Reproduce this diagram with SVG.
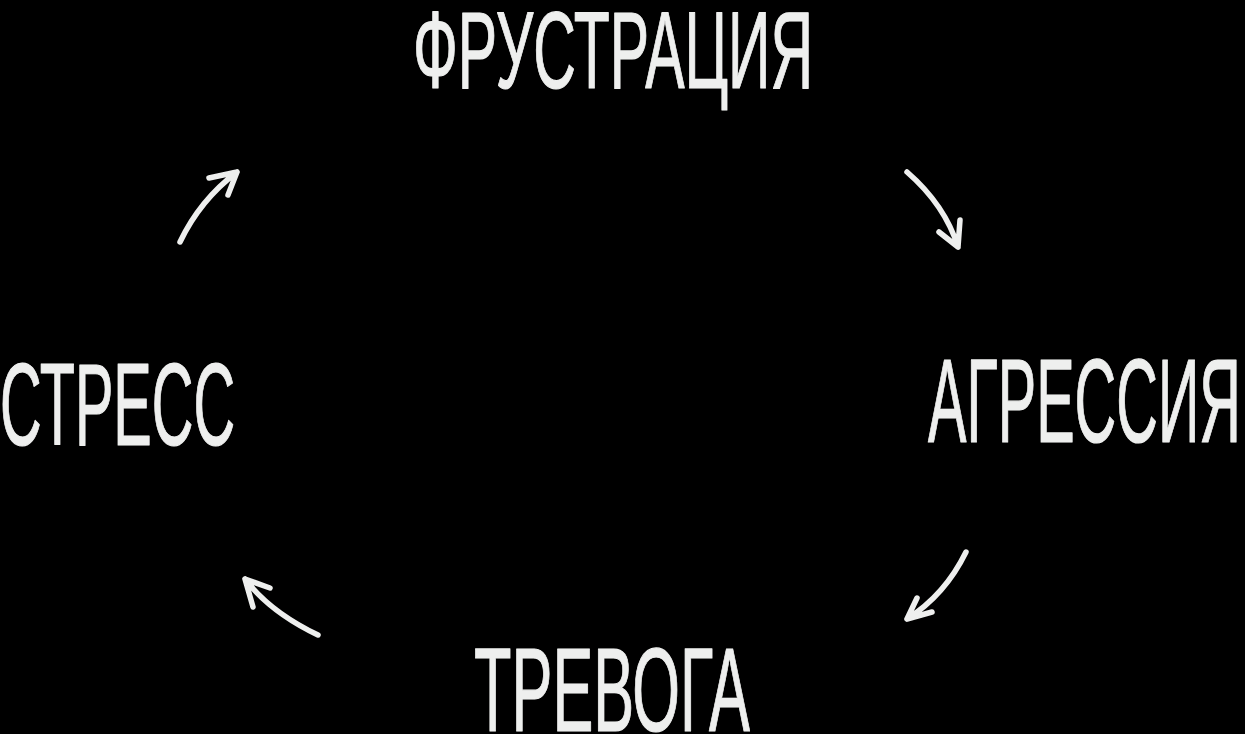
<svg xmlns="http://www.w3.org/2000/svg" width="1245" height="734" viewBox="0 0 1245 734">
<style>
.lbl{font-family:"Liberation Sans",Arial,sans-serif;fill:#EEEFEE;stroke:#EEEFEE;stroke-width:1.2;stroke-linejoin:round}
.arr{fill:none;stroke:#EEEFEE;stroke-width:5.5;stroke-linecap:round;stroke-linejoin:round}
</style>
<rect width="1245" height="734" fill="#000"/>
<g id="node-frustration"><text class="lbl" x="413" y="88" font-size="110" textLength="400" lengthAdjust="spacingAndGlyphs">ФРУСТРАЦИЯ</text></g>
<g id="node-aggression"><text class="lbl" x="928" y="442" font-size="118" textLength="313" lengthAdjust="spacingAndGlyphs">АГРЕССИЯ</text></g>
<g id="node-anxiety"><text class="lbl" x="474" y="731" font-size="118" textLength="276" lengthAdjust="spacingAndGlyphs">ТРЕВОГА</text></g>
<g id="node-stress"><text class="lbl" x="0" y="445" font-size="116" textLength="235" lengthAdjust="spacingAndGlyphs">СТРЕСС</text></g>
<g id="connectors">
<path class="arr" d="M180,242 Q200,200 237,172 M209,178 L237,172 L228,195"/>
<path class="arr" d="M907,172 Q945,205 958,247 M939,232 L958,247 L960,220"/>
<path class="arr" d="M966,552 Q945,595 907,619 M917,598 L907,619 L932,612"/>
<path class="arr" d="M318,635 Q270,612 245,579 M270,588 L245,579 L253,607"/>
</g>
</svg>
